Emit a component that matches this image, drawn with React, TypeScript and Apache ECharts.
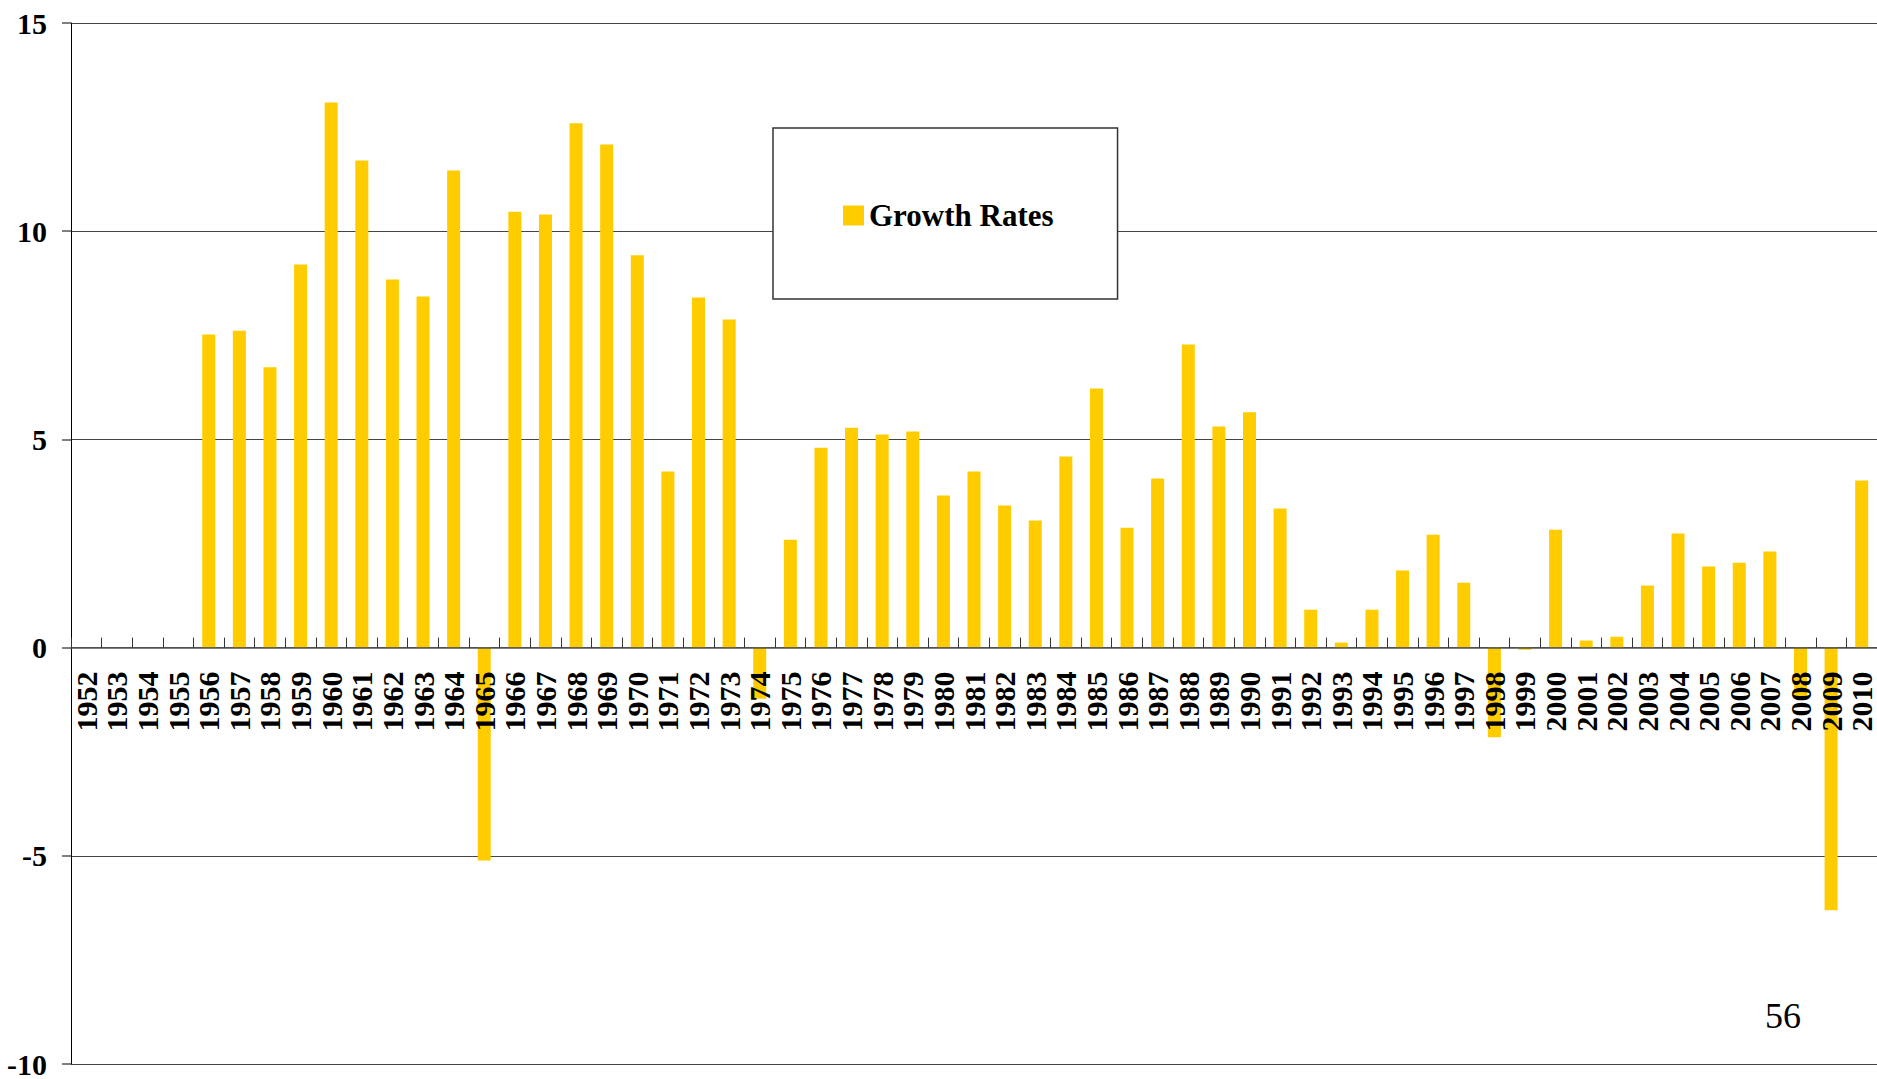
import React, { useEffect, useRef } from "react";
import * as echarts from "echarts";

const years: string[] = [
  "1952", "1953", "1954", "1955", "1956", "1957", "1958", "1959", "1960", "1961",
  "1962", "1963", "1964", "1965", "1966", "1967", "1968", "1969", "1970", "1971",
  "1972", "1973", "1974", "1975", "1976", "1977", "1978", "1979", "1980", "1981",
  "1982", "1983", "1984", "1985", "1986", "1987", "1988", "1989", "1990", "1991",
  "1992", "1993", "1994", "1995", "1996", "1997", "1998", "1999", "2000", "2001",
  "2002", "2003", "2004", "2005", "2006", "2007", "2008", "2009", "2010",
];

const growthRates: (number | null)[] = [
  null, null, null, null, 7.52, 7.61, 6.73, 9.2, 13.09, 11.7,
  8.84, 8.43, 11.46, -5.11, 10.47, 10.4, 12.59, 12.08, 9.42, 4.23,
  8.41, 7.88, -1.23, 2.59, 4.8, 5.28, 5.12, 5.19, 3.65, 4.23,
  3.41, 3.05, 4.59, 6.22, 2.88, 4.06, 7.28, 5.31, 5.65, 3.34,
  0.91, 0.12, 0.91, 1.85, 2.71, 1.56, -2.15, -0.05, 2.83, 0.17,
  0.26, 1.49, 2.74, 1.95, 2.04, 2.31, -1.17, -6.31, 4.01,
];

const yTicks = { min: -10, max: 15, interval: 5 };
const seriesName = "Growth Rates";
const pageNumber = "56";

const SERIF = "'Liberation Serif', 'Times New Roman', serif";

const GRID_TOP = 23;
const GRID_BOTTOM_Y = 1064;
const CHART_H = 1079;

export default function App() {
  const ref = useRef<HTMLDivElement>(null);

  useEffect(() => {
    if (!ref.current) return;
    const chart = echarts.init(ref.current, undefined, { renderer: "svg" });
    const plotH = GRID_BOTTOM_Y - GRID_TOP;
    const zeroOffset = (plotH * (0 - yTicks.min)) / (yTicks.max - yTicks.min);
    chart.setOption({
      animation: false,
      backgroundColor: "#ffffff",
      grid: {
        left: 71,
        right: 0,
        top: GRID_TOP,
        bottom: CHART_H - GRID_BOTTOM_Y,
        containLabel: false,
        outerBoundsMode: "none",
      },
      legend: {
        data: [seriesName],
        left: 773,
        top: 128,
        orient: "horizontal",
        itemWidth: 21,
        itemHeight: 20,
        itemGap: 8,
        padding: [72, 64, 68, 70],
        backgroundColor: "#ffffff",
        borderColor: "#333333",
        borderWidth: 1.5,
        icon: "rect",
        textStyle: {
          fontFamily: SERIF,
          fontWeight: "bold",
          fontSize: 31,
          color: "#000000",
          lineHeight: 31,
        },
      },
      xAxis: {
        type: "category",
        data: years,
        z: 3,
        position: "bottom",
        offset: -zeroOffset,
        boundaryGap: true,
        axisLine: { onZero: false, lineStyle: { color: "#555555", width: 1.5 } },
        axisTick: {
          show: true,
          inside: true,
          length: 10,
          alignWithLabel: false,
          interval: 0,
          lineStyle: { color: "#333333", width: 1 },
        },
        axisLabel: {
          interval: 0,
          rotate: 90,
          margin: 24,
          fontFamily: SERIF,
          fontWeight: "bold",
          fontSize: 30,
          color: "#000000",
        },
        splitLine: { show: false },
      },
      yAxis: {
        type: "value",
        min: yTicks.min,
        max: yTicks.max,
        interval: yTicks.interval,
        axisLine: { show: true, lineStyle: { color: "#000000", width: 1 } },
        axisTick: { show: true, inside: false, length: 9, lineStyle: { color: "#555555", width: 1.5 } },
        axisLabel: {
          margin: 24,
          fontFamily: SERIF,
          fontWeight: "bold",
          fontSize: 30,
          color: "#000000",
        },
        splitLine: { show: true, lineStyle: { color: "#444444", width: 1.2 } },
      },
      series: [
        {
          name: seriesName,
          type: "bar",
          data: growthRates,
          barWidth: 13,
          itemStyle: { color: "#FFCC00" },
        },
      ],
      graphic: [
        {
          type: "text",
          left: 1765,
          top: 998,
          z: 10,
          style: {
            text: pageNumber,
            fontFamily: SERIF,
            fontSize: 36,
            fill: "#000000",
          },
        },
      ],
    });
    return () => chart.dispose();
  }, []);

  return (
    <div
      ref={ref}
      style={{ position: "absolute", left: 0, top: 0, width: 1877, height: 1079 }}
    />
  );
}
